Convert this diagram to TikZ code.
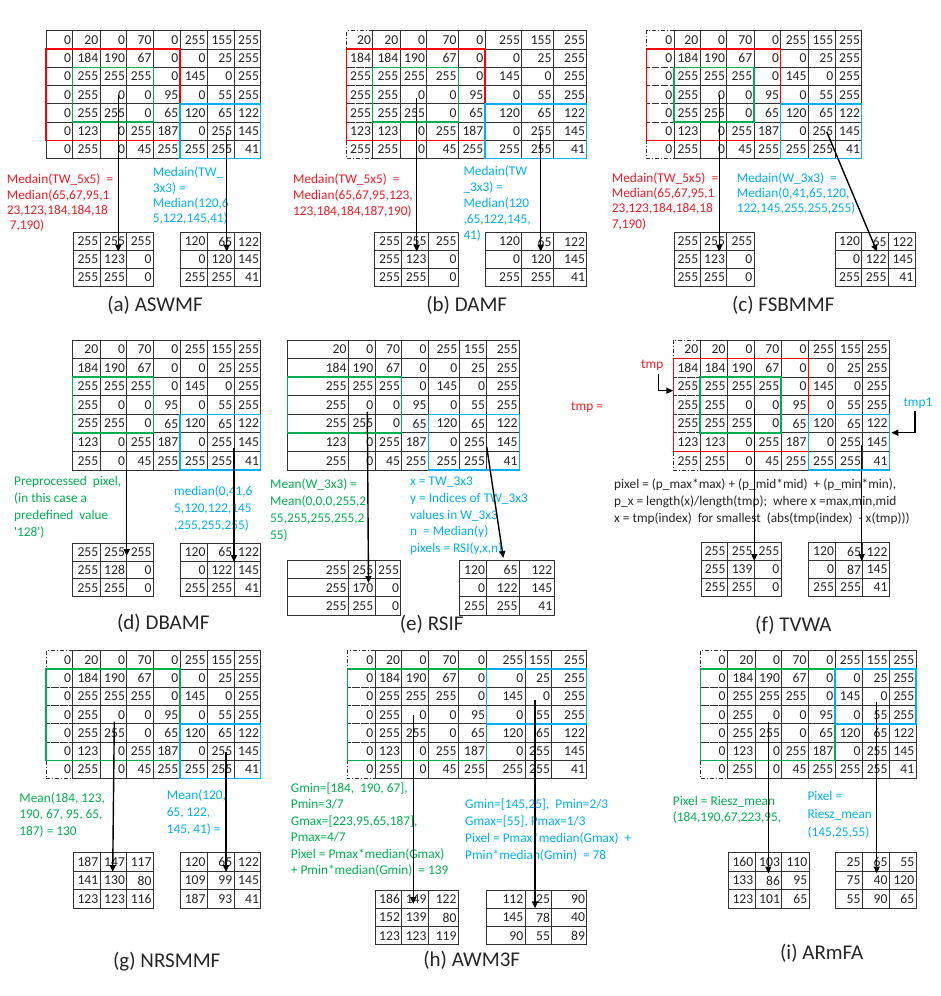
\documentclass[tikz,border=0pt]{standalone}
\usepackage{fontspec}
\setmainfont{Carlito}[Ligatures=TeXOff]
\usetikzlibrary{arrows.meta}
\definecolor{tred}{RGB}{237,28,36}
\definecolor{tgreen}{RGB}{0,176,80}
\definecolor{tblue}{RGB}{0,176,240}
\definecolor{gline}{RGB}{50,50,50}
\definecolor{numc}{RGB}{35,35,35}
\def\padzero{{0,20,0,70,0,255,155,255},{0,184,190,67,0,0,25,255},{0,255,255,255,0,145,0,255},{0,255,0,0,95,0,55,255},{0,255,255,0,65,120,65,122},{0,123,0,255,187,0,255,145},{0,255,0,45,255,255,255,41}}
\def\padrep{{20,20,0,70,0,255,155,255},{184,184,190,67,0,0,25,255},{255,255,255,255,0,145,0,255},{255,255,0,0,95,0,55,255},{255,255,255,0,65,120,65,122},{123,123,0,255,187,0,255,145},{255,255,0,45,255,255,255,41}}
\def\nopad{{20,0,70,0,255,155,255},{184,190,67,0,0,25,255},{255,255,255,0,145,0,255},{255,0,0,95,0,55,255},{255,255,0,65,120,65,122},{123,0,255,187,0,255,145},{255,0,45,255,255,255,41}}
\def\oLmed{{255,255,255},{255,123,0},{255,255,0}}
\def\oRa{{120,65,122},{0,120,145},{255,255,41}}
\def\oRc{{120,65,122},{0,122,145},{255,255,41}}
\def\oLd{{255,255,255},{255,128,0},{255,255,0}}
\def\oLe{{255,255,255},{255,170,0},{255,255,0}}
\def\oLf{{255,255,255},{255,139,0},{255,255,0}}
\def\oRf{{120,65,122},{0,87,145},{255,255,41}}
\def\oLg{{187,147,117},{141,130,80},{123,123,116}}
\def\oRg{{120,65,122},{109,99,145},{187,93,41}}
\def\oLh{{186,149,122},{152,139,80},{123,123,119}}
\def\oRh{{112,25,90},{145,78,40},{90,55,89}}
\def\oLi{{160,103,110},{133,86,95},{123,101,65}}
\def\oRi{{25,65,55},{75,40,120},{55,90,65}}
\newcommand{\mkgrid}[6]{%
 \foreach \rowdata [count=\gr from 0] in #5 {%
  \foreach \val [count=\gc from 0] in \rowdata {%
   \pgfmathsetmacro{\xl}{{#2}[\gc]}%
   \pgfmathsetmacro{\xr}{{#2}[\gc+1]}%
   \pgfmathsetmacro{\yt}{#3+\gr*#4}%
   \pgfmathsetmacro{\yb}{#3+(\gr+1)*#4}%
   \pgfmathtruncatemacro{\grr}{\gr+1}%
   \pgfmathtruncatemacro{\gcc}{\gc+1}%
   \coordinate (#1-g-\gr-\gc) at (\xl,\yt);%
   \coordinate (#1-g-\grr-\gcc) at (\xr,\yb);%
   \node[cell] (#1-\gr-\gc) at (\xr-1.6,\yt+#4/2) {\val};%
   \ifnum\gc=0
     \draw[gridline,#6] (\xr,\yt) -- (\xl,\yt) -- (\xl,\yb) -- (\xr,\yb);%
     \draw[gridline] (\xr,\yt) -- (\xr,\yb);%
   \else
     \draw[gridline] (\xl,\yt) rectangle (\xr,\yb);%
   \fi
  }%
 }%
}
\begin{document}
\begin{tikzpicture}[x=1pt,y=-1pt,
  cell/.style={anchor=east,inner sep=0pt,font=\fontsize{13.6}{13.6}\selectfont,text=numc},
  gridline/.style={draw=gline,line width=0.9pt},
  padline/.style={dash pattern=on 4pt off 2pt on 1pt off 2pt},
  redbox/.style={draw=red,line width=1.5pt},
  greenbox/.style={draw=tgreen,line width=1.5pt},
  bluebox/.style={draw=tblue,line width=1.5pt},
  arr/.style={draw=black,line width=1.4pt,-{Triangle[length=7pt,width=6pt]}},
  lbl/.style={anchor=north west,inner sep=0pt,align=left,font=\fontsize{13.3}{16}\selectfont},
  lbla/.style={lbl,font=\fontsize{13.3}{15.3}\selectfont},
  lblb/.style={lbl,font=\fontsize{13.3}{17}\selectfont},
  capt/.style={inner sep=0pt,font=\fontsize{21}{24}\selectfont,text=black!85}]
\fill[white] (0,0) rectangle (940,996);
\useasboundingbox (0,0) rectangle (940,996);

% ---------------- (a) ASWMF
\mkgrid{a}{46,72.7,100,126.7,153.3,180,207.3,234,260.7}{30.7}{18.29}{\padzero}{solid}
\mkgrid{aL}{73.3,100,126.7,153.3}{232.7}{17.8}{\oLmed}{solid}
\mkgrid{aR}{180,207.3,234,260.7}{232.7}{17.8}{\oRa}{solid}
\draw[redbox] (a-g-1-0) rectangle (a-g-6-5);
\draw[greenbox] (a-g-2-1) rectangle (a-g-5-4);
\draw[bluebox] (a-g-4-5) rectangle (a-g-7-8);
\node[lbla,text=tred] (atr) at (6.7,174) {Medain(TW\_5x5)~~=\\Median(65,67,95,1\\23,123,184,184,18\\~7,190)};
\node[lbla,text=tblue] (atb) at (152.7,167) {Medain(TW\_\\3x3) =\\Median(120,6\\5,122,145,41)};
\coordinate (aS1) at (118.3,95); \coordinate (aE1) at (118.3,251.7);
\coordinate (aS2) at (226.7,131.7); \coordinate (aE2) at (226.7,251.7);
\draw[arr] (aS1) -- (aE1);
\draw[arr] (aS2) -- (aE2);
\node[capt] (acap) at (155,305) {(a) ASWMF};

% ---------------- (b) DAMF
\mkgrid{b}{346.7,372.7,400,426.7,458.3,485,521.7,553.3,586.7}{30.7}{18.29}{\padrep}{padline}
\mkgrid{bL}{374,401.7,428.3,458.3}{232.7}{17.8}{\oLmed}{solid}
\mkgrid{bR}{485,521.7,553.3,586.7}{232.7}{17.8}{\oRa}{solid}
\draw[redbox] (b-g-1-0) rectangle (b-g-6-5);
\draw[greenbox] (b-g-2-1) rectangle (b-g-5-4);
\draw[bluebox] (b-g-4-5) rectangle (b-g-7-8);
\node[lbl,text=tred] (btr) at (293,174) {Medain(TW\_5x5)~~=\\Median(65,67,95,123,\\123,184,184,187,190)};
\node[lbl,text=tblue] (btb) at (463.3,165.7) {Medain(TW\\\_3x3) =\\Median(120\\,65,122,145,\\41)};
\coordinate (bS1) at (416.7,98.3); \coordinate (bE1) at (416.7,251.7);
\coordinate (bS2) at (540.7,131.7); \coordinate (bE2) at (540.7,251.7);
\draw[arr] (bS1) -- (bE1);
\draw[arr] (bS2) -- (bE2);
\node[capt] (bcap) at (466.7,305) {(b) DAMF};

% ---------------- (c) FSBMMF
\mkgrid{c}{646.7,674,700,726.7,754,780.7,808.3,835,861.7}{30.7}{18.29}{\padzero}{padline}
\mkgrid{cL}{674,700,726.7,754}{232.7}{17.8}{\oLmed}{solid}
\mkgrid{cR}{835,861.7,888.3,915}{232.7}{17.8}{\oRc}{solid}
\draw[redbox] (c-g-1-0) rectangle (c-g-6-5);
\draw[greenbox] (c-g-2-1) rectangle (c-g-5-4);
\draw[bluebox] (c-g-4-5) rectangle (c-g-7-8);
\node[lbla,text=tred] (ctr) at (611.7,172.3) {Medain(TW\_5x5)~~=\\Median(65,67,95,1\\23,123,184,184,18\\7,190)};
\node[lbla,text=tblue] (ctb) at (736.7,172.3) {Medain(W\_3x3)~~=\\Median(0,41,65,120,\\122,145,255,255,255)};
\coordinate (cS1) at (719.3,95); \coordinate (cE1) at (719.3,251.7);
\coordinate (cS2) at (826.7,131.7); \coordinate (cE2) at (877,251.7);
\draw[arr] (cS1) -- (cE1);
\draw[arr] (cS2) -- (cE2);
\node[capt] (ccap) at (783.3,305) {(c) FSBMMF};

% ---------------- (d) DBAMF
\mkgrid{d}{72.7,100,126.7,153.3,180,207.3,234,260.7}{340}{18.57}{\nopad}{solid}
\mkgrid{dL}{72.7,100,126.7,153.3}{543.3}{17.8}{\oLd}{solid}
\mkgrid{dR}{180,207.3,234,260.7}{543.3}{17.8}{\oRc}{solid}
\draw[greenbox] (d-g-2-0) rectangle (d-g-5-3);
\draw[bluebox] (d-g-4-4) rectangle (d-g-7-7);
\node[lblb,text=tgreen] (dtg) at (14,475.7) {Preprocessed~~pixel,\\(in this case a\\predefined~~value\\'128')};
\node[lblb,text=tblue] (dtb) at (174,485.7) {median(0,41,6\\5,120,122,145\\,255,255,255)};
\coordinate (dS1) at (126.7,470); \coordinate (dE1) at (126.7,556);
\coordinate (dS2) at (234,448); \coordinate (dE2) at (234,562);
\draw[arr] (dS1) -- (dE1);
\draw[arr] (dS2) -- (dE2);
\node[capt] (dcap) at (163.3,623.3) {(d) DBAMF};

% ---------------- (e) RSIF
\mkgrid{e}{287.3,348.3,375,401.7,428.3,459,486.7,519.3}{340}{18.57}{\nopad}{solid}
\mkgrid{eL}{287.3,348.3,375,400.7}{560.7}{18.1}{\oLe}{solid}
\mkgrid{eR}{459,486.7,519.3,554}{560.7}{18.1}{\oRc}{solid}
\draw[greenbox] (e-g-2-0) rectangle (e-g-5-3);
\draw[bluebox] (e-g-4-4) rectangle (e-g-7-7);
\node[lblb,text=tgreen] (etg) at (270,479) {Mean(W\_3x3) =\\Mean(0,0,0,255,2\\55,255,255,255,2\\55)};
\node[lbl,text=tblue,font=\fontsize{13.3}{16.8}\selectfont] (etb) at (410,476.7) {x = TW\_3x3\\y = Indices of TW\_3x3\\values in W\_3x3\\n~~= Median(y)\\pixels = RSI(y,x,n)};
\coordinate (eS1) at (367.3,411.7); \coordinate (eE1) at (368.5,583);
\coordinate (eS2) at (486.7,446.7); \coordinate (eE2) at (503.3,558);
\draw[arr] (eS1) -- (eE1);
\draw[arr] (eS2) -- (eE2);
\node[capt] (ecap) at (431.7,624) {(e) RSIF};

% ---------------- (f) TVWA
\mkgrid{f}{673.3,700,727.3,754.3,781,808.3,835.7,862.7,889.3}{340}{18.57}{\padrep}{padline}
\mkgrid{fL}{701,727.3,754.3,781}{542.7}{17.8}{\oLf}{solid}
\mkgrid{fR}{808.3,835.7,862.7,889.3}{542.7}{17.8}{\oRf}{solid}
\draw[redbox] (f-g-1-0) rectangle (f-g-6-5);
\draw[greenbox] (f-g-2-1) rectangle (f-g-5-4);
\draw[bluebox] (f-g-4-5) rectangle (f-g-7-8);
\node[lbl,text=tred,anchor=west] (ftmpeq) at (571,407) {tmp =};
\node[lbl,text=tred,anchor=west] (ftmp) at (641,365.5) {tmp};
\node[lbl,text=tblue,anchor=west] (ftmp1) at (903.3,403.5) {tmp1};
\coordinate (fT1) at (658.3,374); \coordinate (fT1b) at (658.3,390.7);
\coordinate (fT2) at (915,411); \coordinate (fT2b) at (915,432.7);
\draw[arr] (fT1) -- (fT1b) -- (f-g-2-0 |- fT1b);
\draw[arr] (fT2) -- (fT2b) -- ([xshift=2pt]f-g-4-8 |- fT2b);
\node[lbl,text=black!85,font=\fontsize{13.3}{16.7}\selectfont] (ftx) at (614,479) {pixel = (p\_max*max) + (p\_mid*mid)~~+ (p\_min*min),\\p\_x = length(x)/length(tmp);~~where x =max,min,mid\\x = tmp(index)~~for smallest~~(abs(tmp(index)~~- x(tmp)))};
\coordinate (fS1) at (754.3,408.3); \coordinate (fE1) at (754.3,561);
\coordinate (fS2) at (861.7,445); \coordinate (fE2) at (861.7,561);
\draw[arr] (fS1) -- (fE1);
\draw[arr] (fS2) -- (fE2);
\node[capt] (fcap) at (793.3,625) {(f) TVWA};

% ---------------- (g) NRSMMF
\mkgrid{g}{46,72.7,100,126.7,153.3,180,207.3,234,260.7}{650.7}{18.29}{\padzero}{padline}
\mkgrid{gL}{73.3,100,126.7,153.3}{852.7}{18.5}{\oLg}{solid}
\mkgrid{gR}{180,207.3,234,260.7}{852.7}{18.5}{\oRg}{solid}
\draw[greenbox] (g-g-1-0) rectangle (g-g-6-5);
\draw[bluebox] (g-g-4-5) rectangle (g-g-7-8);
\node[lbl,text=tgreen,font=\fontsize{13.3}{16.7}\selectfont] (gtg) at (19.3,792.3) {Mean(184,~123,\\190, 67, 95, 65,\\187) = 130};
\node[lblb,text=tblue] (gtb) at (166.7,790) {Mean(120,\\65, 122,\\145, 41) =};
\coordinate (gS1) at (114.3,721.7); \coordinate (gE1) at (112.7,872);
\coordinate (gS2) at (226,751.7); \coordinate (gE2) at (226,872);
\draw[arr] (gS1) -- (gE1);
\draw[arr] (gS2) -- (gE2);
\node[capt] (gcap) at (166.7,961.7) {(g) NRSMMF};

% ---------------- (h) AWM3F
\mkgrid{h}{347.3,375,401.7,428.3,458.3,486.7,525,551.7,586.7}{650.7}{18.29}{\padzero}{padline}
\begin{scope}
\clip (360,880) rectangle (600,944.4);
\mkgrid{hL}{375,401.7,428.3,458.3}{890}{18.3}{\oLh}{solid}
\mkgrid{hR}{486.7,525,551.7,586.7}{890}{18.3}{\oRh}{solid}
\end{scope}
\draw[greenbox] (h-g-1-0) rectangle (h-g-6-5);
\draw[bluebox] (h-g-1-5) rectangle (h-g-4-8);
\node[lbl,text=tgreen,font=\fontsize{13.3}{16.5}\selectfont] (htg) at (290.7,782.3) {Gmin=[184,~~190, 67],\\Pmin=3/7\\Gmax=[223,95,65,187],\\Pmax=4/7\\Pixel = Pmax*median(Gmax)\\+ Pmin*median(Gmin)~~= 139};
\node[lblb,text=tblue] (htb) at (465,799) {Gmin=[145,25],~~Pmin=2/3\\Gmax=[55], Pmax=1/3\\Pixel = Pmax*median(Gmax)~~+\\Pmin*median(Gmin)~~= 78};
\coordinate (hS1) at (413.3,715); \coordinate (hE1) at (413.3,904);
\coordinate (hS2) at (535,700); \coordinate (hE2) at (535,908.3);
\draw[arr] (hS1) -- (hE1);
\draw[arr] (hS2) -- (hE2);
\node[capt] (hcap) at (471.7,960) {(h) AWM3F};

% ---------------- (i) ARmFA
\mkgrid{i}{700.7,727.3,755,781.7,808.3,835,862.3,889.3,916}{650.7}{18.29}{\padzero}{padline}
\mkgrid{iL}{728.3,755,781.7,809}{852.7}{18.5}{\oLi}{solid}
\mkgrid{iR}{835.7,862.3,889.3,916}{852.7}{18.5}{\oRi}{solid}
\draw[greenbox] (i-g-1-0) rectangle (i-g-6-5);
\draw[bluebox] (i-g-1-5) rectangle (i-g-4-8);
\node[lbl,text=tgreen,font=\fontsize{13.3}{16.7}\selectfont] (itg) at (672.7,795.7) {Pixel = Riesz\_mean\\(184,190,67,223,95,};
\node[lbl,text=tblue,font=\fontsize{13.3}{18}\selectfont] (itb) at (807.3,790.7) {Pixel =\\Riesz\_mean\\(145,25,55)};
\coordinate (iS1) at (768.3,721.7); \coordinate (iE1) at (768.3,873.5);
\coordinate (iS2) at (876.7,701.7); \coordinate (iE2) at (876.7,873.5);
\draw[arr] (iS1) -- (iE1);
\draw[arr] (iS2) -- (iE2);
\node[capt] (icap) at (821.7,953.3) {(i) ARmFA};
\end{tikzpicture}
\end{document}
